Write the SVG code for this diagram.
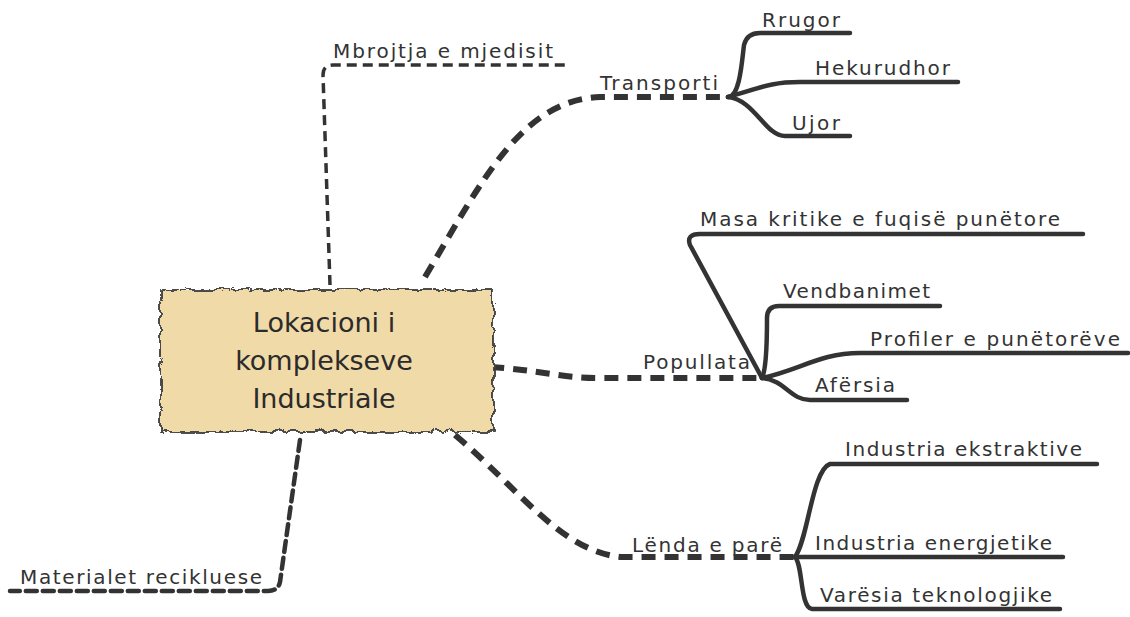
<svg xmlns="http://www.w3.org/2000/svg" width="1130" height="617" viewBox="0 0 1130 617">
  <style>
    .lbl { font-family: "DejaVu Sans", "Noto Sans", sans-serif; font-size: 20px; fill: #333; }
    .title { font-family: "DejaVu Sans", "Noto Sans", sans-serif; font-size: 27px; fill: #2b2b2b; text-anchor: middle; }
    .main { fill: none; stroke: #333; stroke-width: 6; stroke-dasharray: 14 9; }
    .side { fill: none; stroke: #333; stroke-width: 3.5; stroke-dasharray: 10 6; }
    .side2 { fill: none; stroke: #333; stroke-width: 4.5; stroke-dasharray: 11 6; stroke-linecap: round; }
    .sub { fill: none; stroke: #333; stroke-width: 4.5; stroke-linecap: round; stroke-linejoin: round; }
  </style>
  <defs>
    <!-- wavy paper edge for the central box -->
    <filter id="rough" x="-5%" y="-10%" width="110%" height="120%">
      <feTurbulence type="turbulence" baseFrequency="0.07" numOctaves="1" seed="7"/>
      <feDisplacementMap in="SourceGraphic" scale="8" xChannelSelector="R" yChannelSelector="G"/>
    </filter>
  </defs>
  <rect width="1130" height="617" fill="#fff"/>

  <g id="connectors">
    <!-- dashed links from the centre -->
    <path class="side" d="M330,285 L323,75 Q323,65 333,65 L565,65"/>
    <path class="main" d="M425,277 C480,185 520,100 600,97 L728,97"/>
    <path class="main" d="M490,367 C540,370 560,378 600,378 L760,378"/>
    <path class="main" d="M455,435 C520,490 560,550 620,557 L795,557"/>
    <path class="side2" d="M300,440 L280,582 Q278,591 268,591 L10,591"/>
    <!-- Transporti branches -->
    <path class="sub" d="M728,97 C740,97 742,60 744,45 Q747,33 760,33 L850,33"/>
    <path class="sub" d="M728,97 C760,88 770,82 800,82 L958,82"/>
    <path class="sub" d="M728,97 C755,100 765,136 785,136 L850,136"/>
    <!-- Popullata branches -->
    <path class="sub" d="M762,378 L690,245 Q686,234 700,234 L1083,234"/>
    <path class="sub" d="M762,378 C766,370 767,340 767,318 Q767,306 779,306 L940,306"/>
    <path class="sub" d="M762,378 C800,370 820,353 860,353 L1128,353"/>
    <path class="sub" d="M762,378 C785,380 790,400 810,400 L907,400"/>
    <!-- Lënda e parë branches -->
    <path class="sub" d="M795,557 C808,540 812,470 830,464 L1097,464"/>
    <path class="sub" d="M795,557 L1063,557"/>
    <path class="sub" d="M795,557 C803,565 800,608 812,609 L1060,609"/>
  </g>

  <g id="center">
    <rect x="158" y="287" width="333" height="142" fill="#f0daa7" stroke="#3a3a3a" stroke-width="1.8" filter="url(#rough)"/>
    <text class="title" x="324" y="332">Lokacioni i</text>
    <text class="title" x="324" y="370">komplekseve</text>
    <text class="title" x="324" y="408">Industriale</text>
  </g>

  <g id="mbrojtja"><text class="lbl" x="333" y="58" textLength="220">Mbrojtja e mjedisit</text></g>
  <g id="transporti"><text class="lbl" x="600" y="90" textLength="118">Transporti</text></g>
  <g id="rrugor"><text class="lbl" x="762" y="27" textLength="78">Rrugor</text></g>
  <g id="hekurudhor"><text class="lbl" x="815" y="75" textLength="135">Hekurudhor</text></g>
  <g id="ujor"><text class="lbl" x="792" y="130" textLength="48">Ujor</text></g>
  <g id="popullata"><text class="lbl" x="643" y="369" textLength="107">Popullata</text></g>
  <g id="masa"><text class="lbl" x="700" y="226" textLength="360">Masa kritike e fuqisë punëtore</text></g>
  <g id="vendbanimet"><text class="lbl" x="783" y="298" textLength="147">Vendbanimet</text></g>
  <g id="profiler"><text class="lbl" x="870" y="346" textLength="250">Profiler e punëtorëve</text></g>
  <g id="afersia"><text class="lbl" x="815" y="392" textLength="80">Afërsia</text></g>
  <g id="lenda"><text class="lbl" x="632" y="552" textLength="150">Lënda e parë</text></g>
  <g id="ekstraktive"><text class="lbl" x="845" y="456" textLength="237">Industria ekstraktive</text></g>
  <g id="energjetike"><text class="lbl" x="815" y="550" textLength="237">Industria energjetike</text></g>
  <g id="varesia"><text class="lbl" x="820" y="602" textLength="232">Varësia teknologjike</text></g>
  <g id="materialet"><text class="lbl" x="20" y="584" textLength="242">Materialet recikluese</text></g>
</svg>
